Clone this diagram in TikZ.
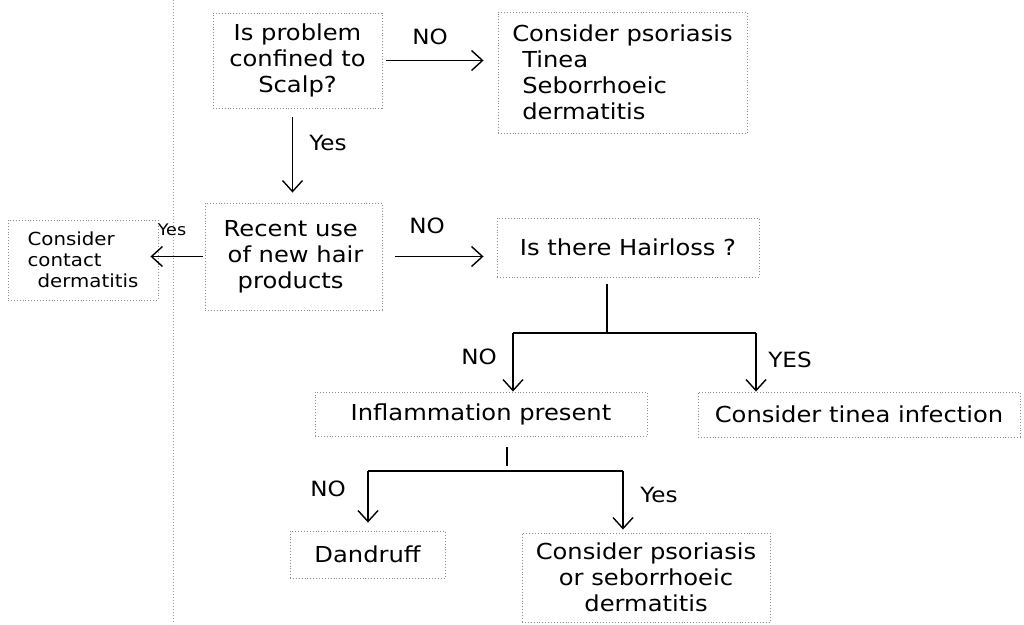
\documentclass[tikz,border=0pt]{standalone}
\usepackage{fontspec}
\setmainfont[FakeStretch=1.1]{DejaVu Sans}
\usetikzlibrary{arrows.meta}
\begin{document}
\begin{tikzpicture}[x=1pt,y=-1pt,
  box/.style={draw=black!45, dotted, line width=0.9pt, inner sep=0pt, font=\fontsize{22}{26}\selectfont, align=center},
  arr/.style={-{Straight Barb[length=11pt,width=20pt]}, line width=1.4pt},
  lnk/.style={line width=1.4pt},
  lbl/.style={font=\fontsize{21}{24}\selectfont, inner sep=0pt},
  margin/.style={draw=black!40, dotted, line width=1pt}]
\useasboundingbox (0,0) rectangle (1024,624);
\path[margin] (173,0) -- (173,624);
% boxes
\node[box, minimum width=169pt, minimum height=95pt] (q1) at (297.5,60.5) {Is problem\\confined to\\Scalp?};
\node[box, minimum width=249pt, minimum height=121pt, align=left] (c1) at (622.5,72.5) {Consider psoriasis\\\hspace*{10pt}Tinea\\\hspace*{10pt}Seborrhoeic\\\hspace*{10pt}dermatitis};
\node[box, minimum width=177pt, minimum height=107pt, align=left] (q2) at (293.5,256.5) {Recent use\\\hspace*{4pt}of new hair\\\hspace*{14pt}products};
\node[box, minimum width=150pt, minimum height=80pt, align=left, font=\fontsize{18}{21}\selectfont] (c2) at (83,260) {Consider\\contact\\\hspace*{10pt}dermatitis};
\node[box, minimum width=262pt, minimum height=59pt] (q3) at (628,247.5) {Is there Hairloss ?};
\node[box, minimum width=332pt, minimum height=44pt] (q4) at (481,414) {Inflammation present};
\node[box, minimum width=322pt, minimum height=45pt] (c3) at (859,414.5) {Consider tinea infection};
\node[box, minimum width=155pt, minimum height=47pt] (r1) at (367.5,554.5) {Dandruff};
\node[box, minimum width=248pt, minimum height=89pt] (c4) at (646,577.5) {Consider psoriasis\\or seborrhoeic\\dermatitis};
% junction coordinates
\coordinate (j1) at (607,333);
\coordinate (j1l) at (513,333);
\coordinate (j1r) at (756,333);
\coordinate (j2) at (507,471);
\coordinate (j2l) at (368,471);
\coordinate (j2r) at (623,471);
% connectors
\draw[arr, shorten <=4pt, shorten >=14pt] (q1.east) -- (q1.east -| c1.west);
\draw[arr, shorten <=9pt, shorten >=10pt] ([xshift=-5pt]q1.south) -- ([xshift=-5pt]q1.south |- q2.north);
\draw[arr, shorten <=2pt, shorten >=-8pt] (q2.west) -- (q2.west -| c2.east);
\draw[arr, shorten <=13pt, shorten >=13pt] (q2.east) -- (q2.east -| q3.west);
\draw[lnk, shorten <=7pt] (j1 |- q3.south) -- (j1);
\draw[lnk] (j1l) -- (j1r);
\draw[arr] (j1l) -- (j1l |- q4.north);
\draw[arr] (j1r) -- (j1r |- c3.north);
\draw[lnk, shorten <=11pt, shorten >=5pt] (j2 |- q4.south) -- (j2);
\draw[lnk] (j2l) -- (j2r);
\draw[arr, shorten >=8pt] (j2l) -- (j2l |- r1.north);
\draw[arr, shorten >=3pt] (j2r) -- (j2r |- c4.north);
% labels
\node[lbl] (l1) at (430,37) {NO};
\node[lbl] (l2) at (328,143) {Yes};
\node[lbl, font=\fontsize{16}{18}\selectfont] (l3) at (172,230) {Yes};
\node[lbl] (l4) at (427,226) {NO};
\node[lbl] (l5) at (479,357) {NO};
\node[lbl] (l6) at (790,360) {YES};
\node[lbl] (l7) at (328,489) {NO};
\node[lbl] (l8) at (659,495) {Yes};
\end{tikzpicture}
\end{document}
